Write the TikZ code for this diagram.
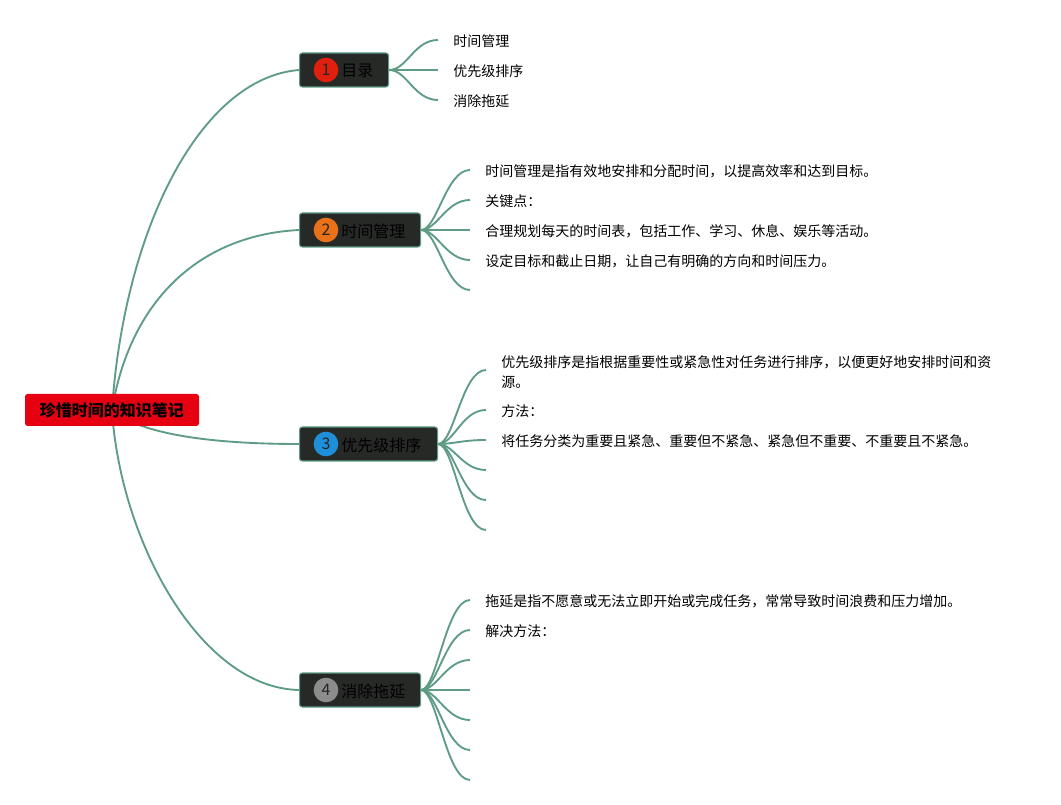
\documentclass[tikz,border=0pt]{standalone}
\usepackage{fontspec}
\setmainfont{Noto Sans CJK SC}
\usetikzlibrary{backgrounds}
\definecolor{conn}{HTML}{5E9C86}
\definecolor{boxfill}{HTML}{272927}
\definecolor{rootred}{HTML}{E60012}
\definecolor{c1}{HTML}{E0200F}
\definecolor{c2}{HTML}{E8711A}
\definecolor{c3}{HTML}{1E8FD8}
\definecolor{c4}{HTML}{8C8C8C}
\tikzset{
  conn/.style={draw=conn, line width=1.4pt},
  rootbox/.style={fill=rootred, rounded corners=2pt, minimum width=130.5pt, minimum height=24pt, inner sep=0pt, font=\fontsize{12}{14}\selectfont\bfseries, text=black},
  topic/.style={fill=boxfill, draw=conn, line width=0.8pt, rounded corners=2pt, minimum height=25.5pt, inner sep=0pt, anchor=west},
  num/.style={circle, minimum size=18.5pt, inner sep=0pt, font=\fontsize{12}{14}\selectfont, text=black!85},
  toplabel/.style={anchor=west, inner sep=0pt, font=\fontsize{12}{14}\selectfont, text=black},
  leaf/.style={anchor=west, inner sep=0pt, font=\fontsize{10.5}{15}\selectfont, text=black, align=left},
}
\begin{document}
\begin{tikzpicture}[x=0.75pt,y=-0.75pt]
\useasboundingbox (0,0) rectangle (1061,805);
\begin{scope}[on background layer]
\fill[white] (0,0) rectangle (1061,805);
\end{scope}

% root
\node[rootbox] (root) at (112,410) {珍惜时间的知识笔记};

% topics
\node[topic, minimum width=66.75pt] (t1) at (299,70) {};
\node[num, fill=c1] (n1) at (326,70) {1};
\node[toplabel] (l1) at (341,71) {目录};

\node[topic, minimum width=90.75pt] (t2) at (299,230) {};
\node[num, fill=c2] (n2) at (326,230) {2};
\node[toplabel] (l2) at (341,231) {时间管理};

\node[topic, minimum width=103.5pt] (t3) at (299,444) {};
\node[num, fill=c3] (n3) at (326,444) {3};
\node[toplabel] (l3) at (341,445) {优先级排序};

\node[topic, minimum width=90.75pt] (t4) at (299,690) {};
\node[num, fill=c4] (n4) at (326,690) {4};
\node[toplabel] (l4) at (341,691) {消除拖延};

% root connectors
\begin{scope}[on background layer]
\draw[conn] (root.center) .. controls (124,230) and (200,78) .. (t1.west);
\draw[conn] (root.center) .. controls (130,300) and (200,235) .. (t2.west);
\draw[conn] (root.center) .. controls (140,434) and (210,444) .. (t3.west);
\draw[conn] (root.center) .. controls (120,540) and (200,688) .. (t4.west);
\end{scope}

% topic 1 leaves
\coordinate (e11) at (438,40);
\coordinate (e12) at (438,70);
\coordinate (e13) at (438,100);
\foreach \e in {e11,e12,e13}
  \draw[conn] (t1.east) .. controls +(18,0) and +(-24,0) .. (\e);
\node[leaf] (a11) at (453,41) {时间管理};
\node[leaf] (a12) at (453,71) {优先级排序};
\node[leaf] (a13) at (453,101) {消除拖延};

% topic 2 leaves
\coordinate (e21) at (470,170);
\coordinate (e22) at (470,200);
\coordinate (e23) at (470,230);
\coordinate (e24) at (470,260);
\coordinate (e25) at (470,290);
\foreach \e in {e21,e22,e23,e24,e25}
  \draw[conn] (t2.east) .. controls +(16,0) and +(-24,0) .. (\e);
\node[leaf] (a21) at (485,171) {时间管理是指有效地安排和分配时间，以提高效率和达到目标。};
\node[leaf] (a22) at (485,201) {关键点：};
\node[leaf] (a23) at (485,231) {合理规划每天的时间表，包括工作、学习、休息、娱乐等活动。};
\node[leaf] (a24) at (485,261) {设定目标和截止日期，让自己有明确的方向和时间压力。};

% topic 3 leaves
\coordinate (e31) at (486,370);
\coordinate (e32) at (486,410);
\coordinate (e33) at (486,440);
\coordinate (e34) at (486,470);
\coordinate (e35) at (486,500);
\coordinate (e36) at (486,530);
\foreach \e in {e31,e32,e33,e34,e35,e36}
  \draw[conn] (t3.east) .. controls +(16,0) and +(-24,0) .. (\e);
\node[leaf] (a31) at (501,372) {优先级排序是指根据重要性或紧急性对任务进行排序，以便更好地安排时间和资\\源。};
\node[leaf] (a32) at (501,411) {方法：};
\node[leaf] (a33) at (501,441) {将任务分类为重要且紧急、重要但不紧急、紧急但不重要、不重要且不紧急。};

% topic 4 leaves
\coordinate (e41) at (470,600);
\coordinate (e42) at (470,630);
\coordinate (e43) at (470,660);
\coordinate (e44) at (470,690);
\coordinate (e45) at (470,720);
\coordinate (e46) at (470,750);
\coordinate (e47) at (470,780);
\foreach \e in {e41,e42,e43,e44,e45,e46,e47}
  \draw[conn] (t4.east) .. controls +(16,0) and +(-24,0) .. (\e);
\node[leaf] (a41) at (485,601) {拖延是指不愿意或无法立即开始或完成任务，常常导致时间浪费和压力增加。};
\node[leaf] (a42) at (485,631) {解决方法：};
\end{tikzpicture}
\end{document}
